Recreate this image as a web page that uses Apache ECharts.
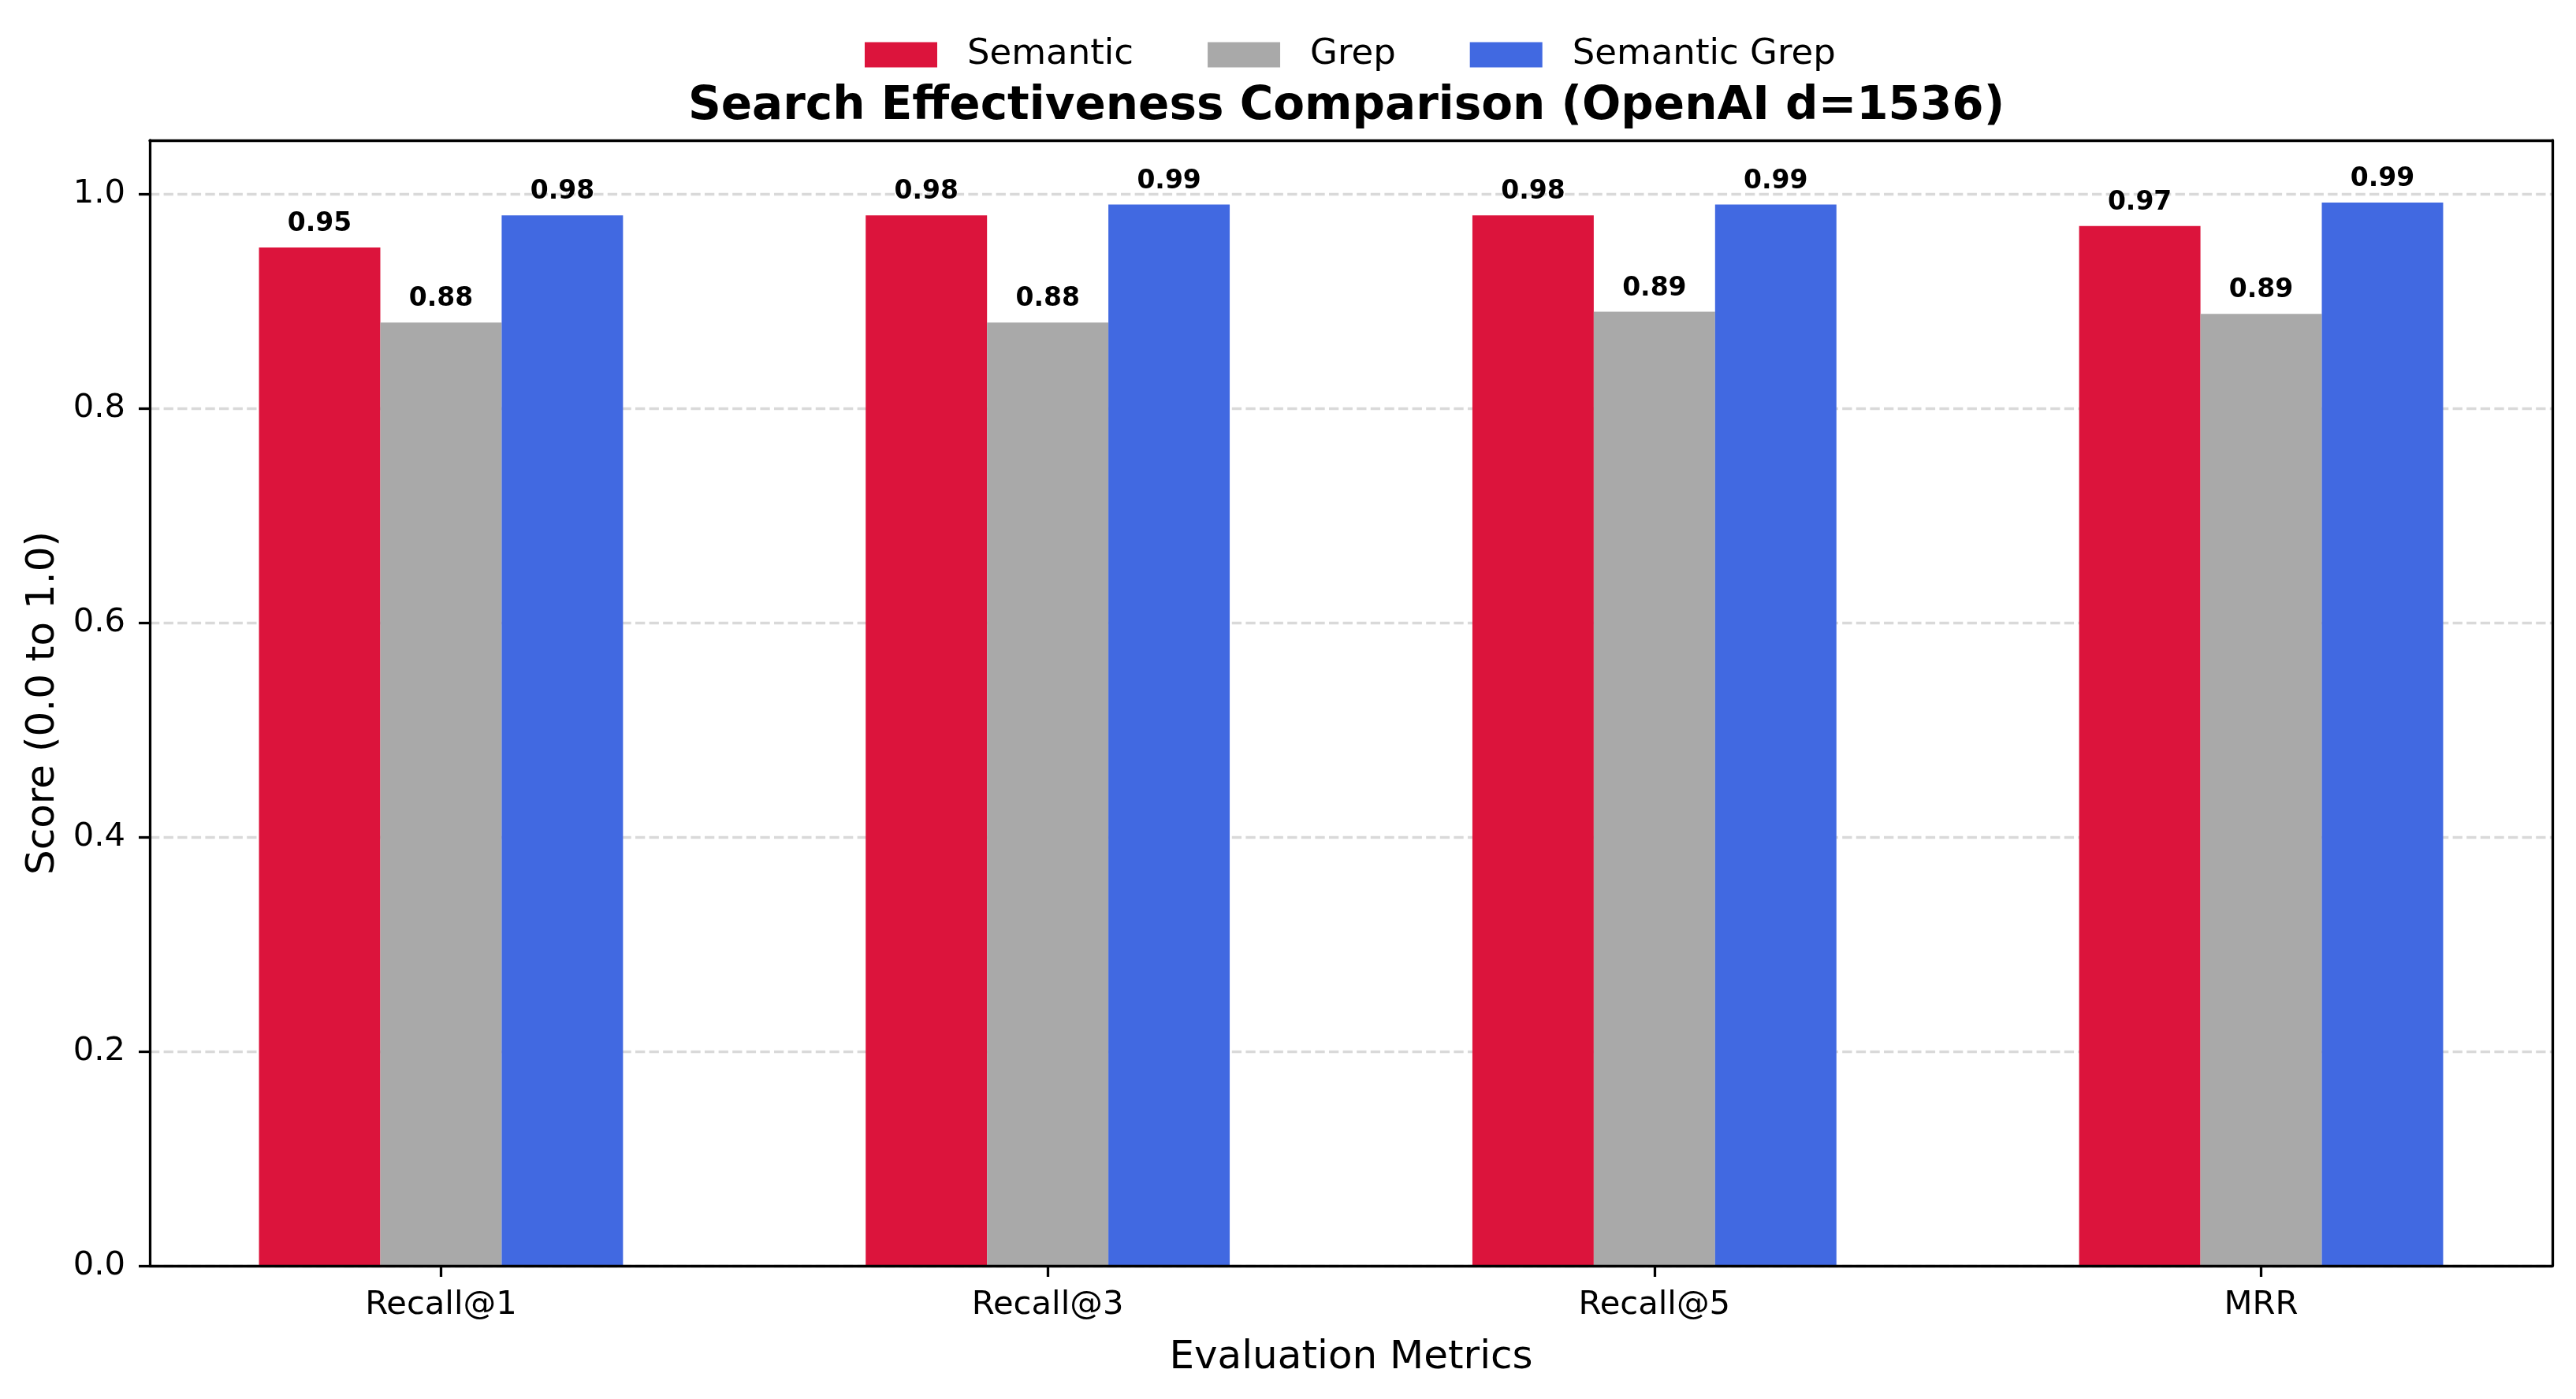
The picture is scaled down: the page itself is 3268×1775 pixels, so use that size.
<!DOCTYPE html>
<html>
<head>
<meta charset="utf-8">
<script src="https://cdn.jsdelivr.net/npm/echarts@6/dist/echarts.min.js"></script>
<style>
html,body{margin:0;padding:0;background:#fff;}
#chart{width:3268px;height:1775px;}
</style>
</head>
<body>
<div id="chart"></div>
<script>
const categories = ['Recall@1', 'Recall@3', 'Recall@5', 'MRR'];
const seriesNames = ['Semantic', 'Grep', 'Semantic Grep'];
const semanticValues = [0.95, 0.98, 0.98, 0.97];
const grepValues = [0.88, 0.88, 0.89, 0.888];
const semanticGrepValues = [0.98, 0.99, 0.99, 0.992];
const yTicks = [0, 0.2, 0.4, 0.6, 0.8, 1.0];
const colors = ['#DC143C', '#A9A9A9', '#4169E1'];

const catIdx = categories.map((c, i) => i);
const FONT = 'DejaVu Sans';

function mkSeries(name, vals, color) {
  return {
    name: name,
    type: 'bar',
    xAxisIndex: 0,
    yAxisIndex: 0,
    barWidth: '20%',
    barGap: '0%',
    itemStyle: { color: color },
    data: vals.map((v, i) => [catIdx[i], v]),
    label: {
      show: true,
      position: 'top',
      distance: 13,
      fontFamily: FONT,
      fontWeight: 'bold',
      fontSize: 33,
      color: '#000',
      formatter: p => p.value[1].toFixed(2)
    },
    z: 2
  };
}

const frameLine = { show: true, onZero: false, lineStyle: { color: '#000', width: 3.3 } };

const chart = echarts.init(document.getElementById('chart'), null, { renderer: 'canvas' });
chart.setOption({
  animation: false,
  backgroundColor: '#fff',
  textStyle: { fontFamily: FONT },
  title: {
    text: 'Search Effectiveness Comparison (OpenAI d=1536)',
    left: 873,
    top: 107,
    padding: 0,
    textStyle: { fontFamily: FONT, fontWeight: 'bold', fontSize: 58, color: '#000' }
  },
  legend: {
    data: seriesNames,
    left: 1097,
    top: 47,
    padding: 0,
    itemWidth: 92,
    itemHeight: 32,
    itemGap: 94,
    icon: 'rect',
    textStyle: { fontFamily: FONT, fontSize: 45, color: '#000', padding: [0, 0, 0, 33] }
  },
  grid: { left: 190, right: 30, top: 178, bottom: 169, containLabel: false },
  xAxis: [
    {
      type: 'value',
      position: 'bottom',
      min: -0.48,
      max: 3.48,
      z: 5,
      name: 'Evaluation Metrics',
      nameLocation: 'middle',
      nameGap: 92,
      nameTextStyle: { fontFamily: FONT, fontSize: 50, color: '#000' },
      axisLine: frameLine,
      axisTick: { show: true, length: 14, lineStyle: { color: '#000', width: 3.3 }, customValues: catIdx },
      axisLabel: {
        show: true, margin: 29, fontFamily: FONT, fontSize: 41.7, color: '#000',
        customValues: catIdx,
        formatter: v => categories[Math.round(v)]
      },
      splitLine: { show: false }
    },
    {
      type: 'value',
      position: 'top',
      min: -0.48,
      max: 3.48,
      z: 5,
      axisLine: frameLine,
      axisTick: { show: false },
      axisLabel: { show: false },
      splitLine: { show: false }
    }
  ],
  yAxis: [
    {
      type: 'value',
      position: 'left',
      min: 0,
      max: 1.05,
      interval: 0.2,
      z: 0,
      name: 'Score (0.0 to 1.0)',
      nameLocation: 'middle',
      nameGap: 110,
      nameTextStyle: { fontFamily: FONT, fontSize: 50, color: '#000' },
      axisLine: frameLine,
      axisTick: { show: true, length: 14, lineStyle: { color: '#000', width: 3.3 }, customValues: yTicks },
      axisLabel: {
        show: true, margin: 31, fontFamily: FONT, fontSize: 41.7, color: '#000',
        customValues: yTicks,
        formatter: v => v.toFixed(1)
      },
      splitLine: { show: true, lineStyle: { color: '#d9d9d9', width: 3.3, type: [12.3, 5.3] } }
    },
    {
      type: 'value',
      position: 'right',
      min: 0,
      max: 1.05,
      z: 5,
      axisLine: frameLine,
      axisTick: { show: false },
      axisLabel: { show: false },
      splitLine: { show: false }
    }
  ],
  series: [
    mkSeries(seriesNames[0], semanticValues, colors[0]),
    mkSeries(seriesNames[1], grepValues, colors[1]),
    mkSeries(seriesNames[2], semanticGrepValues, colors[2])
  ]
});
</script>
</body>
</html>
